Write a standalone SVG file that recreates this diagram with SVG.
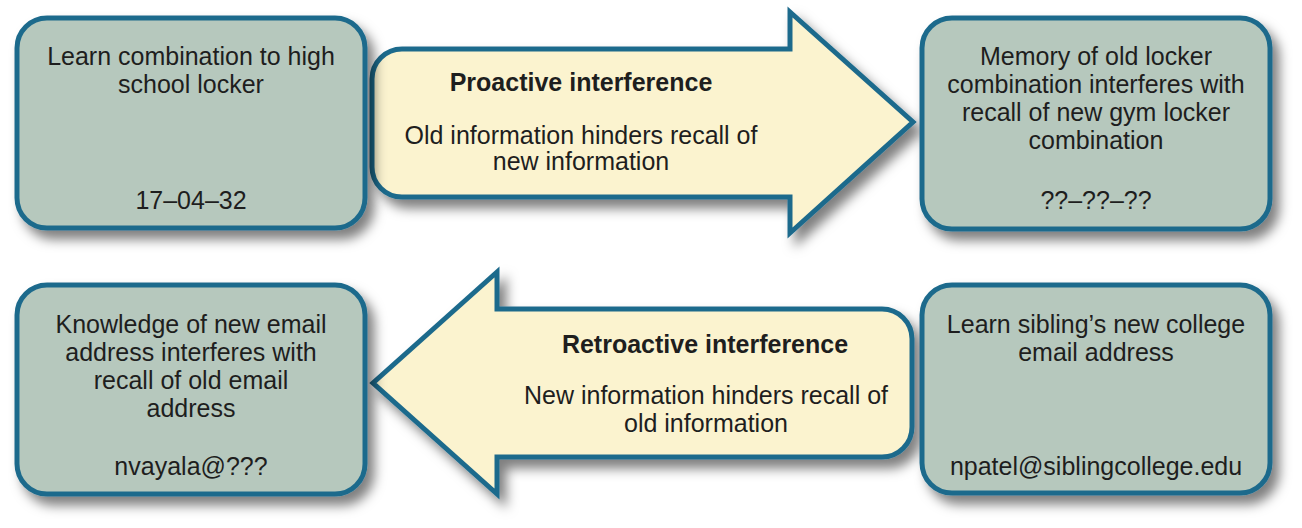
<svg xmlns="http://www.w3.org/2000/svg" width="1302" height="528" viewBox="0 0 1302 528">
  <style>
    .box { fill: #b6c8bd; stroke: #1f6b8c; stroke-width: 5; filter: url(#shadow); }
    .arrow { fill: #fbf3cf; stroke: #1f6b8c; stroke-width: 5; stroke-linejoin: miter; filter: url(#shadow); }
    text { font-family: "Liberation Sans", Arial, sans-serif; font-size: 25px; fill: #1e1e1e; text-anchor: middle; }
    .bold { font-weight: bold; }
  </style>
  <defs>
    <filter id="shadow" x="-10%" y="-10%" width="130%" height="140%">
      <feDropShadow dx="7" dy="9" stdDeviation="6" flood-color="#000" flood-opacity="0.5"/>
    </filter>
  </defs>
  <rect width="1302" height="528" fill="#ffffff"/>

  <g id="connectors">
    <g id="proactive">
      <path class="arrow" d="M 402 49 L 790 49 L 790 12 L 913 122 L 790 233 L 790 197 L 402 197 A 30 30 0 0 1 372 167 L 372 79 A 30 30 0 0 1 402 49 Z"/>
      <text class="bold" x="581" y="91">Proactive interference</text>
      <text x="581" y="144">Old information hinders recall of</text>
      <text x="581" y="170">new information</text>
    </g>
    <g id="retroactive">
      <path class="arrow" d="M 497 309 L 882 309 A 30 30 0 0 1 912 339 L 912 427 A 30 30 0 0 1 882 457 L 497 457 L 497 494 L 373 383 L 497 272 Z"/>
      <text class="bold" x="705" y="353">Retroactive interference</text>
      <text x="706" y="404">New information hinders recall of</text>
      <text x="706" y="432">old information</text>
    </g>
  </g>

  <g id="node-learn-locker">
    <rect class="box" x="17" y="18" width="348" height="210" rx="30" ry="30"/>
    <text x="191" y="65">Learn combination to high</text>
    <text x="191" y="93">school locker</text>
    <text x="191" y="209">17–04–32</text>
  </g>

  <g id="node-memory-old-locker">
    <rect class="box" x="922" y="18" width="348" height="211" rx="30" ry="30"/>
    <text x="1096" y="65">Memory of old locker</text>
    <text x="1096" y="93">combination interferes with</text>
    <text x="1096" y="121">recall of new gym locker</text>
    <text x="1096" y="149">combination</text>
    <text x="1096" y="209">??–??–??</text>
  </g>

  <g id="node-knowledge-email">
    <rect class="box" x="17" y="285" width="348" height="209" rx="30" ry="30"/>
    <text x="191" y="333">Knowledge of new email</text>
    <text x="191" y="361">address interferes with</text>
    <text x="191" y="389">recall of old email</text>
    <text x="191" y="417">address</text>
    <text x="191" y="475">nvayala@???</text>
  </g>

  <g id="node-learn-email">
    <rect class="box" x="922" y="285" width="348" height="208" rx="30" ry="30"/>
    <text x="1096" y="333">Learn sibling’s new college</text>
    <text x="1096" y="361">email address</text>
    <text x="1096" y="475">npatel@siblingcollege.edu</text>
  </g>
</svg>
